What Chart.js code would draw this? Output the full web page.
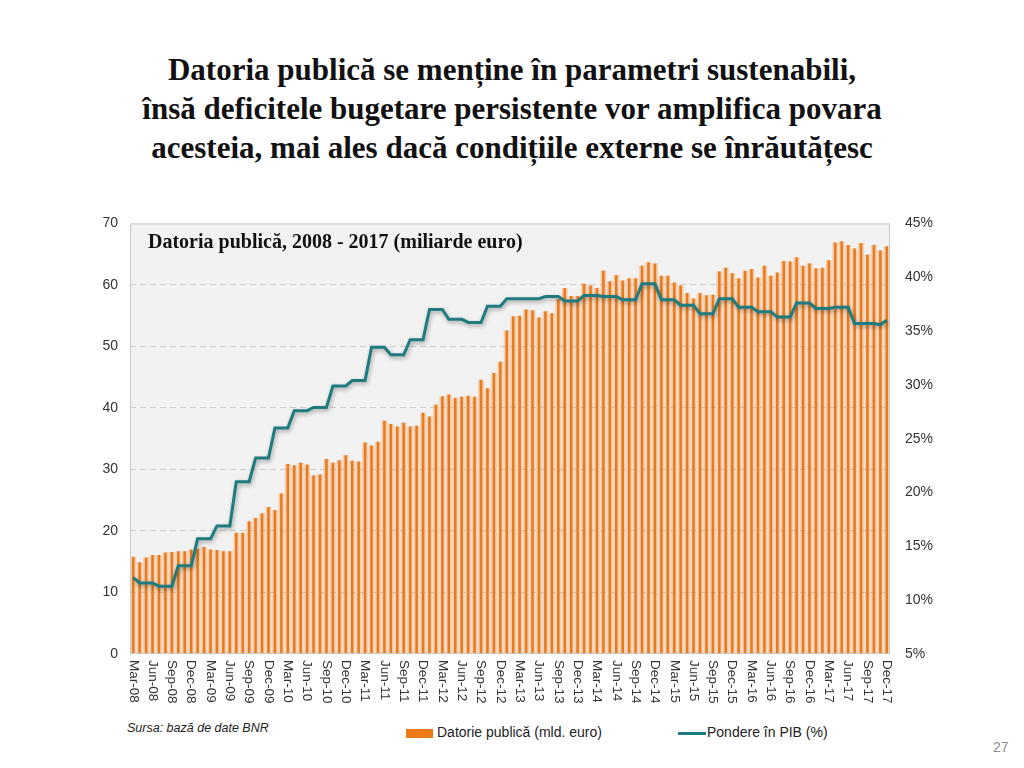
<!DOCTYPE html>
<html>
<head>
<meta charset="utf-8">
<script src="https://cdn.jsdelivr.net/npm/chart.js@4.4.0/dist/chart.umd.min.js"></script>
<style>
  html, body { margin: 0; padding: 0; background: #fff; }
  #page { position: relative; width: 1024px; height: 768px; overflow: hidden; font-family: 'Liberation Sans', sans-serif; }
  #title { position: absolute; left: 0; top: 50px; width: 1024px; text-align: center;
           font-family: 'Liberation Serif', serif; font-weight: bold; font-size: 31px; line-height: 39px; color: #111; }
  #chart { position: absolute; left: 0; top: 200px; }
  #subtitle { position: absolute; left: 148px; top: 230px; font-family: 'Liberation Serif', serif; font-weight: bold;
              font-size: 20px; color: #111; }
  #source { position: absolute; left: 127px; top: 721px; font-size: 12.5px; font-style: italic; color: #222; }
  .leg { position: absolute; top: 724px; font-size: 14px; color: #222; }
  .swatch { position: absolute; }
  #pagenum { position: absolute; left: 993px; top: 739px; font-size: 14px; color: #8a8a8a; }
</style>
</head>
<body>
<div id="page">
  <div id="title">Datoria publică se menține în parametri sustenabili,<br>însă deficitele bugetare persistente vor amplifica povara<br>acesteia, mai ales dacă condițiile externe se înrăutățesc</div>
  <canvas id="chart" width="1024" height="520"></canvas>
  <div id="subtitle">Datoria publică, 2008 - 2017 (miliarde euro)</div>
  <div id="source">Sursa: bază de date BNR</div>
  <div class="swatch" style="left:406px; top:729px; width:27px; height:9px; background:#ec7a16;"></div>
  <div class="leg" style="left:437px;">Datorie publică (mld. euro)</div>
  <div class="swatch" style="left:678px; top:732px; width:28px; height:3px; background:#1e7b80;"></div>
  <div class="leg" style="left:707px;">Pondere în PIB (%)</div>
  <div id="pagenum">27</div>
</div>
<script>
// monthly categories, Mar-08 .. Dec-17
const monthNames = ['Jan', 'Feb', 'Mar', 'Apr', 'May', 'Jun', 'Jul', 'Aug', 'Sep', 'Oct', 'Nov', 'Dec'];
const labels = [];
for (let y = 2008; y <= 2017; y++) {
    for (let m = 0; m < 12; m++) {
        if (y === 2008 && m < 2) continue;
        labels.push(monthNames[m] + '-' + String(y).slice(2));
    }
}

// public debt, bn euro
const datorie = [
    15.8, 14.9, 15.7, 16.1, 16.1, 16.5, 16.6, 16.7, 16.7, 17.0, 17.1, 17.4, 17.0, 16.9, 16.7, 16.7,
    19.7, 19.7, 21.6, 22.1,
    22.9, 23.9, 23.4, 26.1, 30.9, 30.7, 31.1, 30.8, 29.0, 29.2, 31.7, 31.1, 31.5, 32.3, 31.4, 31.3, 34.4, 33.9, 34.5, 37.9,
    37.4, 37.0, 37.6, 37.0, 37.1, 39.2, 38.6, 40.5, 41.9, 42.2, 41.6, 41.8, 42.0, 41.8, 44.6, 43.2, 45.7, 47.5, 52.6, 54.9, 55.0,
    56.0, 55.9, 54.7, 55.7, 55.4, 57.7, 59.5, 58.2, 58.2, 60.2, 59.9, 59.5, 62.3, 60.6, 61.6, 60.7, 61.1, 61.1, 63.1, 63.7,
    63.5, 61.5, 61.5, 60.4, 59.9, 58.7, 57.8, 58.7, 58.3, 58.4, 62.2, 62.8, 61.9, 61.1, 62.3, 62.6, 61.2, 63.1, 61.5, 62.0,
    63.9, 63.8, 64.5, 63.1, 63.5, 62.7, 62.8, 64.0, 66.9, 67.1, 66.5, 65.9, 66.8, 64.9, 66.5, 65.6, 66.3
];

// share of GDP, %
const pondere = [
    12.1, 11.6, 11.6, 11.6, 11.3, 11.3, 11.3, 13.2, 13.2, 13.2, 15.7, 15.7, 15.7, 16.9, 16.9, 16.9,
    21.0, 21.0, 21.0, 23.2, 23.2, 23.2, 26.0, 26.0, 26.0, 27.6, 27.6, 27.6, 27.9, 27.9, 27.9,
    29.9, 29.9, 29.9, 30.4, 30.4, 30.4, 33.5, 33.5, 33.5, 32.8, 32.8, 32.8, 34.2, 34.2, 34.2,
    37.0, 37.0, 37.0, 36.1, 36.1, 36.1, 35.8, 35.8, 35.8, 37.3, 37.3, 37.3, 38.0, 38.0, 38.0,
    38.0, 38.0, 38.0, 38.2, 38.2, 38.2, 37.8, 37.8, 37.8, 38.3, 38.3, 38.3, 38.2, 38.2, 38.2,
    37.9, 37.9, 37.9, 39.4, 39.4, 39.4, 37.9, 37.9, 37.9, 37.4, 37.4, 37.4, 36.6, 36.6, 36.6,
    38.0, 38.0, 38.0, 37.2, 37.2, 37.2, 36.8, 36.8, 36.8, 36.3, 36.3, 36.3, 37.6, 37.6, 37.6,
    37.1, 37.1, 37.1, 37.2, 37.2, 37.2, 35.7, 35.7, 35.7, 35.7, 35.6, 36.0
];

const ORANGE = '#ec7a16';
const PEACH = 'rgba(236, 125, 40, 0.28)';
const TEAL = '#1e7b80';

Chart.defaults.font.family = "'Liberation Sans', sans-serif";
Chart.defaults.font.size = 13;
Chart.defaults.color = '#333';

// plot area background and frame
const plotFrame = {
    id: 'plotFrame',
    beforeDraw(chart) {
        const a = chart.chartArea;
        const ctx = chart.ctx;
        ctx.save();
        ctx.fillStyle = '#f2f2f2';
        ctx.fillRect(a.left, a.top, a.right - a.left, a.bottom - a.top);
        ctx.restore();
    },
    afterDraw(chart) {
        const a = chart.chartArea;
        const ctx = chart.ctx;
        ctx.save();
        ctx.strokeStyle = '#c8c8c8';
        ctx.lineWidth = 1;
        ctx.strokeRect(a.left + 0.5, a.top + 0.5, a.right - a.left - 1, a.bottom - a.top - 1);
        ctx.restore();
    }
};

// soft shadow under the GDP line
const lineShadow = {
    id: 'lineShadow',
    beforeDatasetDraw(chart, args) {
        if (args.index !== 2) return;
        const ctx = chart.ctx;
        ctx.save();
        ctx.shadowColor = 'rgba(0, 0, 0, 0.35)';
        ctx.shadowBlur = 4;
        ctx.shadowOffsetX = 1;
        ctx.shadowOffsetY = 2;
    },
    afterDatasetDraw(chart, args) {
        if (args.index !== 2) return;
        chart.ctx.restore();
    }
};

// x labels rotated clockwise (read top to bottom), every 3rd month
const xLabels = {
    id: 'xLabels',
    afterDraw(chart) {
        const ctx = chart.ctx;
        const xs = chart.scales.x;
        const bottom = chart.chartArea.bottom;
        ctx.save();
        ctx.font = "13.5px 'Liberation Sans', sans-serif";
        ctx.fillStyle = '#333';
        ctx.textAlign = 'left';
        ctx.textBaseline = 'middle';
        labels.forEach(function(lab, i) {
            if (i % 3 !== 0) return;
            ctx.save();
            ctx.translate(xs.getPixelForValue(i), bottom + 6);
            ctx.rotate(Math.PI / 2);
            ctx.fillText(lab, 0, 0);
            ctx.restore();
        });
        ctx.restore();
    }
};

new Chart(document.getElementById('chart').getContext('2d'), {
    data: {
        labels: labels,
        datasets: [
            {
                type: 'bar',
                label: 'glow',
                data: datorie,
                backgroundColor: PEACH,
                barPercentage: 0.95,
                categoryPercentage: 1.0,
                grouped: false,
                yAxisID: 'y',
                order: 3
            },
            {
                type: 'bar',
                label: 'Datorie publică (mld. euro)',
                data: datorie,
                backgroundColor: ORANGE,
                barPercentage: 0.4,
                categoryPercentage: 1.0,
                grouped: false,
                yAxisID: 'y',
                order: 2
            },
            {
                type: 'line',
                label: 'Pondere în PIB (%)',
                data: pondere,
                borderColor: TEAL,
                borderWidth: 3,
                pointRadius: 0,
                tension: 0,
                yAxisID: 'y1',
                order: 1
            }
        ]
    },
    options: {
        responsive: false,
        animation: false,
        layout: { padding: { top: 16, left: 0, right: 0, bottom: 0 } },
        plugins: {
            legend: { display: false },
            tooltip: { enabled: false }
        },
        scales: {
            x: {
                offset: true,
                ticks: { display: false },
                grid: { display: false },
                border: { display: false },
                afterFit: function(scale) { scale.height = 66; }
            },
            y: {
                position: 'left',
                min: 0,
                max: 70,
                ticks: { stepSize: 10, padding: 12, font: { size: 14 } },
                grid: {
                    drawTicks: false,
                    color: function(c) {
                        return (c.tick && (c.tick.value === 0 || c.tick.value === 70)) ? 'rgba(0,0,0,0)' : '#cdcdcd';
                    }
                },
                border: { display: false, dash: [6, 4] },
                afterFit: function(scale) { scale.width = 130; }
            },
            y1: {
                position: 'right',
                min: 5,
                max: 45,
                ticks: {
                    stepSize: 5,
                    padding: 15,
                    font: { size: 14 },
                    callback: function(v) { return v + '%'; }
                },
                grid: { display: false, drawTicks: false },
                border: { display: false },
                afterFit: function(scale) { scale.width = 134; }
            }
        }
    },
    plugins: [plotFrame, lineShadow, xLabels]
});
</script>
</body>
</html>
